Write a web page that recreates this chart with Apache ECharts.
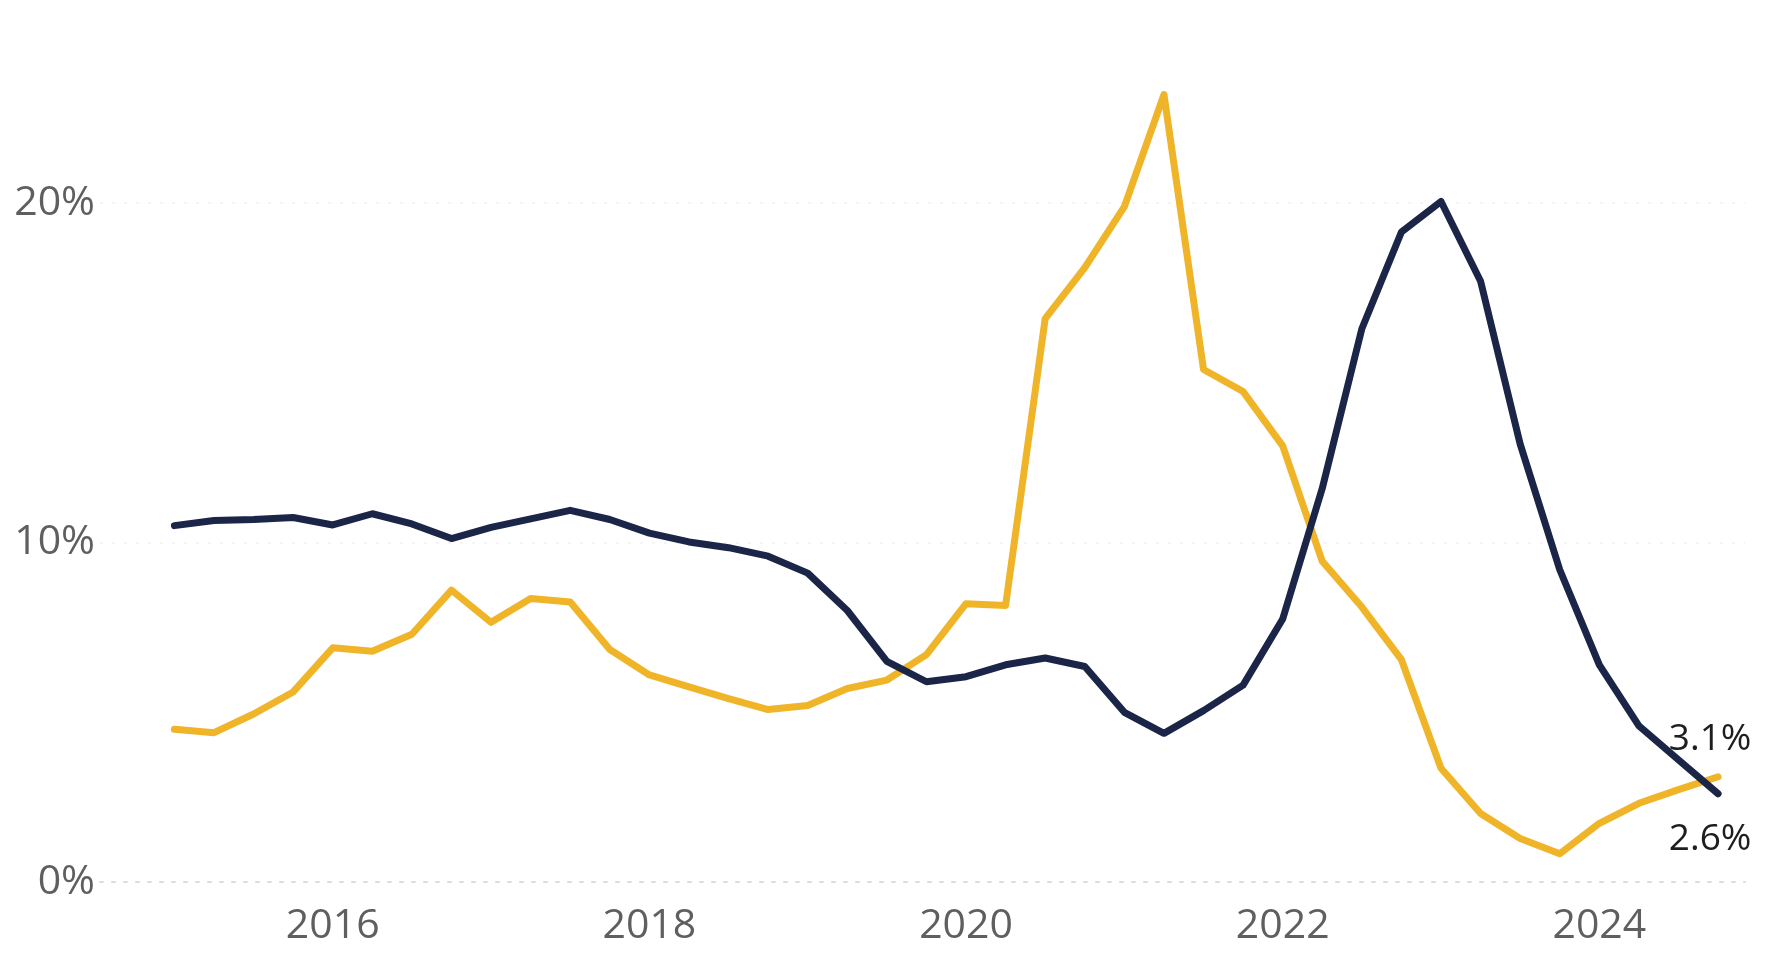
<!DOCTYPE html>
<html>
<head>
<meta charset="utf-8">
<script src="https://cdn.jsdelivr.net/npm/echarts@6/dist/echarts.min.js"></script>
<style>
  html, body { margin: 0; padding: 0; background: #ffffff; }
  #chart { width: 1768px; height: 959px; }
</style>
</head>
<body>
<div id="chart"></div>
<script>
// Quarterly observations, 2015 Q1 - 2024 Q4 (year-over-year change, %)
const quarters = [
  '2015 Q1', '2015 Q2', '2015 Q3', '2015 Q4',
  '2016 Q1', '2016 Q2', '2016 Q3', '2016 Q4',
  '2017 Q1', '2017 Q2', '2017 Q3', '2017 Q4',
  '2018 Q1', '2018 Q2', '2018 Q3', '2018 Q4',
  '2019 Q1', '2019 Q2', '2019 Q3', '2019 Q4',
  '2020 Q1', '2020 Q2', '2020 Q3', '2020 Q4',
  '2021 Q1', '2021 Q2', '2021 Q3', '2021 Q4',
  '2022 Q1', '2022 Q2', '2022 Q3', '2022 Q4',
  '2023 Q1', '2023 Q2', '2023 Q3', '2023 Q4',
  '2024 Q1', '2024 Q2', '2024 Q3', '2024 Q4'
];

const navyValues = [
  10.5, 10.65, 10.68, 10.74,
  10.52, 10.85, 10.55, 10.12,
  10.45, 10.7, 10.95, 10.68,
  10.28, 10.02, 9.85, 9.6,
  9.1, 8.0, 6.5, 5.9,
  6.05, 6.4, 6.6, 6.35,
  5.0, 4.38, 5.05, 5.8,
  7.75, 11.6, 16.3, 19.15,
  20.05, 17.7, 12.9, 9.2,
  6.4, 4.6, 3.6, 2.6
];

const goldValues = [
  4.5, 4.4, 4.95, 5.6,
  6.9, 6.8, 7.3, 8.6,
  7.65, 8.35, 8.25, 6.85,
  6.1, 5.75, 5.4, 5.08,
  5.2, 5.7, 5.95, 6.7,
  8.2, 8.15, 16.6, 18.1,
  19.9, 23.2, 15.1, 14.45,
  12.85, 9.45, 8.1, 6.55,
  3.35, 2.02, 1.28, 0.83,
  1.73, 2.32, 2.72, 3.1
];

const yTickValues = [0, 10, 20];
const xTickYears = [2016, 2018, 2020, 2022, 2024];

const NAVY = '#1a2548';
const GOLD = '#f0b429';
const FONT = '"Open Sans", "Noto Sans", sans-serif';

// quarter label -> fractional year at the start of the quarter
function quarterToYear(label) {
  const parts = label.split(' Q');
  return Number(parts[0]) + (Number(parts[1]) - 1) / 4;
}

// the last point carries a tiny symbol so its value label can be drawn
function buildData(values, endLabel, color) {
  return values.map(function (v, i) {
    const point = [quarterToYear(quarters[i]), v];
    if (i === values.length - 1) {
      return {
        value: point,
        symbol: 'circle',
        symbolSize: 2,
        itemStyle: { color: color },
        label: endLabel
      };
    }
    return { value: point, symbol: 'none' };
  });
}

const endLabelBase = {
  show: true,
  color: '#1e1e1e',
  fontFamily: FONT,
  fontSize: 37,
  formatter: function (p) { return p.value[1].toFixed(1) + '%'; }
};

const chart = echarts.init(document.getElementById('chart'), null, { renderer: 'canvas' });

chart.setOption({
  animation: false,
  backgroundColor: '#ffffff',
  grid: { left: 100, right: 23, top: 33.5, bottom: 77, containLabel: false },
  xAxis: {
    type: 'value',
    min: 2014.53,
    max: 2024.92,
    axisLine: { show: true, lineStyle: { color: '#dcdcdc', width: 2, type: [3, 9] } },
    axisTick: { show: false, customValues: xTickYears },
    splitLine: { show: false },
    axisLabel: {
      customValues: xTickYears,
      formatter: function (v) { return String(v); },
      color: '#5f5f5f',
      fontFamily: FONT,
      fontSize: 41,
      margin: 24
    }
  },
  yAxis: {
    type: 'value',
    min: 0,
    max: 25,
    axisLine: { show: false },
    axisTick: { show: false, customValues: yTickValues },
    splitLine: { show: true, lineStyle: { color: '#f4f4f4', width: 2, type: [3, 9] } },
    axisLabel: {
      customValues: yTickValues,
      formatter: function (v) { return v + '%'; },
      color: '#5f5f5f',
      fontFamily: FONT,
      fontSize: 41,
      margin: 5
    }
  },
  series: [
    {
      name: 'gold',
      type: 'line',
      showSymbol: true,
      symbol: 'none',
      data: buildData(goldValues, Object.assign({}, endLabelBase, { position: 'top', distance: 18, offset: [-8, 0] }), GOLD),
      lineStyle: { color: GOLD, width: 7, join: 'round', cap: 'round' },
      itemStyle: { color: GOLD },
      emphasis: { disabled: true },
      z: 2
    },
    {
      name: 'navy',
      type: 'line',
      showSymbol: true,
      symbol: 'none',
      data: buildData(navyValues, Object.assign({}, endLabelBase, { position: 'bottom', distance: 26, offset: [-8, 0] }), NAVY),
      lineStyle: { color: NAVY, width: 7, join: 'round', cap: 'round' },
      itemStyle: { color: NAVY },
      emphasis: { disabled: true },
      z: 3
    }
  ]
});
</script>
</body>
</html>
